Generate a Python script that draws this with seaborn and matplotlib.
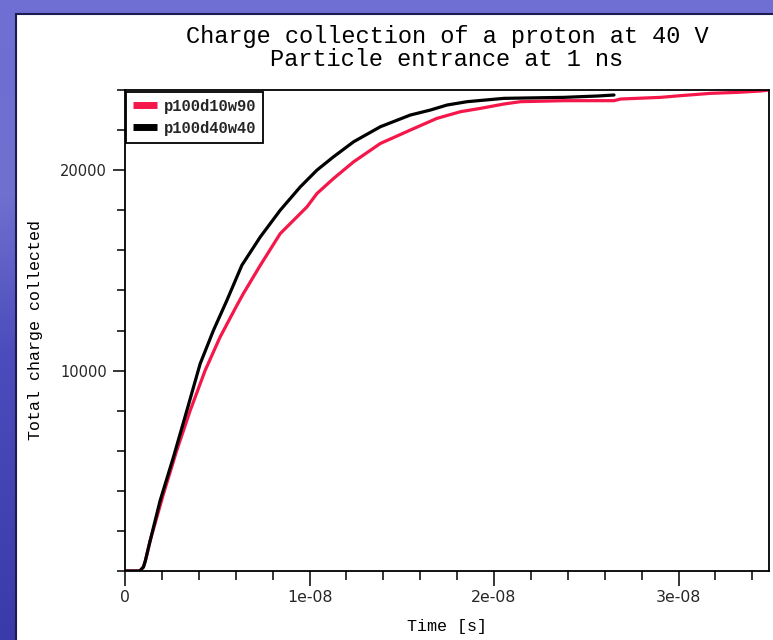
import numpy as np
import pandas as pd
import matplotlib
matplotlib.use("Agg")
import matplotlib.pyplot as plt
import seaborn as sns
from matplotlib.patches import Rectangle
from matplotlib.colors import LinearSegmentedColormap
from matplotlib.ticker import FixedLocator, FixedFormatter, MultipleLocator

# ---------------- data ----------------
series_names = ["p100d10w90", "p100d40w40"]
series_colors = ["#f5164a", "#000000"]

red_time_ns = [0, 0.8, 1.0, 1.1, 1.36, 2.08, 2.8, 3.53, 4.34, 5.15, 6.06, 6.42, 7.33,
               8.41, 9.86, 10.4, 11.3, 12.39, 13.84, 15.46, 16.9, 18.18, 19.26, 20.53,
               21.43, 23.78, 26.5, 26.86, 29.03, 30.1, 31.74, 33.2, 34.45, 34.9]
red_charge = [0, 0, 200, 500, 1500, 3833, 6000, 8000, 10000, 11667, 13250, 13850, 15250,
              16833, 18167, 18833, 19583, 20417, 21333, 22000, 22583, 22917, 23083, 23300,
              23417, 23467, 23467, 23550, 23633, 23717, 23833, 23883, 23950, 24000]

black_time_ns = [0, 0.8, 1.0, 1.1, 1.36, 1.9, 2.62, 3.35, 4.07, 4.79, 5.52, 6.33, 7.33,
                 8.41, 9.5, 10.4, 11.3, 12.39, 13.84, 15.46, 16.55, 17.45, 18.54, 20.53,
                 23.78, 25.6, 26.5]
black_charge = [0, 0, 200, 500, 1500, 3500, 5667, 8000, 10333, 12000, 13500, 15250, 16667,
                18000, 19167, 20000, 20667, 21417, 22167, 22750, 23000, 23250, 23417, 23583,
                23633, 23700, 23750]

x_tick_values = [0, 1e-8, 2e-8, 3e-8]
x_tick_labels = ["0", "1e-08", "2e-08", "3e-08"]
y_tick_values = [10000, 20000]
y_tick_labels = ["10000", "20000"]

title_lines = ["Charge collection of a proton at 40 V", "Particle entrance at 1 ns"]
x_label = "Time [s]"
y_label = "Total charge collected"

df = pd.concat([
    pd.DataFrame({"time": np.array(red_time_ns) * 1e-9, "charge": red_charge,
                  "series": series_names[0]}),
    pd.DataFrame({"time": np.array(black_time_ns) * 1e-9, "charge": black_charge,
                  "series": series_names[1]}),
], ignore_index=True)

# ---------------- style ----------------
sns.set_theme(style="white")
plt.rcParams["font.family"] = ["DejaVu Sans"]
mono = "Liberation Mono"

W, H = 773, 640
fig = plt.figure(figsize=(W / 100, H / 100), dpi=100)
fig.patch.set_facecolor("#5a5ac4")

# slide background gradient
bg = fig.add_axes([0, 0, 1, 1], zorder=-10)
grad = np.linspace(0, 1, 256).reshape(-1, 1)
cmap = LinearSegmentedColormap.from_list(
    "slide", [(0, "#6e6ed4"), (0.3, "#7070d0"), (0.55, "#4c4cbc"), (1, "#3a3aa8")])
bg.imshow(grad, aspect="auto", cmap=cmap, extent=[0, 1, 0, 1])
bg.set_axis_off()

# white panel
panel = Rectangle((16 / W, -0.05), 1.1, 1 - 14 / H + 0.05, transform=fig.transFigure,
                  facecolor="white", edgecolor="#1c1c50", linewidth=1.5, zorder=-5)
fig.add_artist(panel)

ax = fig.add_axes([125 / W, 1 - 571 / H, (769 - 125) / W, (571 - 90) / H])
ax.set_facecolor("white")

palette = dict(zip(series_names, series_colors))
sns.lineplot(data=df, x="time", y="charge", hue="series", palette=palette,
             estimator=None, sort=False, linewidth=2.3, ax=ax)

ax.set_xlim(0, 3.49e-8)
ax.set_ylim(0, 24000)

ax.xaxis.set_major_locator(FixedLocator(x_tick_values))
ax.xaxis.set_major_formatter(FixedFormatter(x_tick_labels))
ax.xaxis.set_minor_locator(MultipleLocator(2e-9))
ax.yaxis.set_major_locator(FixedLocator(y_tick_values))
ax.yaxis.set_major_formatter(FixedFormatter(y_tick_labels))
ax.yaxis.set_minor_locator(MultipleLocator(2000))

ax.tick_params(axis="x", which="major", direction="out", length=10.5, width=1.1,
               color="black", labelsize=11.3, pad=3, bottom=True)
ax.tick_params(axis="x", which="minor", direction="out", length=6.5, width=1.1,
               color="black", bottom=True)
ax.tick_params(axis="y", which="major", direction="out", length=9, width=1.1,
               color="black", labelsize=10.5, pad=4, left=True)
ax.tick_params(axis="y", which="minor", direction="out", length=5.5, width=1.1,
               color="black", left=True)
for sp in ax.spines.values():
    sp.set_visible(True)
    sp.set_color("black")
    sp.set_linewidth(1.3)

ax.set_xlabel(x_label, fontfamily=mono, fontsize=12, color="black")
ax.set_ylabel(y_label, fontfamily=mono, fontsize=12, color="black")
ax.xaxis.set_label_coords(0.5, -0.1)
ax.yaxis.set_label_coords(-0.128, 0.5)

fig.text(447 / W, 1 - 37 / H, title_lines[0], fontfamily=mono, fontsize=17,
         ha="center", va="center", color="black")
fig.text(447 / W, 1 - 60 / H, title_lines[1], fontfamily=mono, fontsize=17,
         ha="center", va="center", color="black")

leg = ax.legend(loc="upper left", bbox_to_anchor=(0.002, 0.996), frameon=True,
                fancybox=False, framealpha=1, edgecolor="black",
                prop={"family": mono, "weight": "bold", "size": 11.2},
                handlelength=1.5, handletextpad=0.45, borderpad=0.45,
                labelspacing=0.45, borderaxespad=0)
leg.get_frame().set_linewidth(1.3)
for h in leg.get_lines():
    h.set_linewidth(5)
    h.set_solid_capstyle("butt")

fig.savefig("out.png", dpi=100)
